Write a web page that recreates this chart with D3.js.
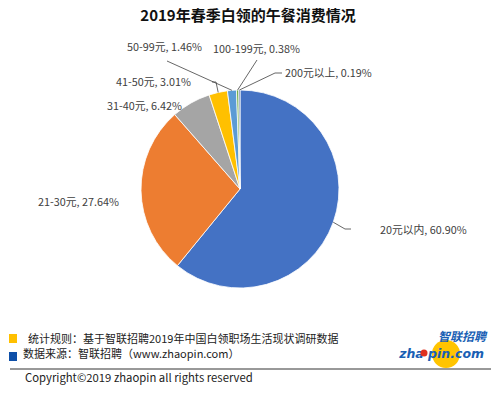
<!DOCTYPE html>
<meta charset="utf-8">
<style>
body { margin: 0; background: #fff; }
text { font-family: "Noto Sans CJK SC", "Noto Sans", sans-serif; fill: #333; }
.title { font-size: 15px; font-weight: bold; fill: #111; }
.lbl { font-size: 10.8px; fill: #404040; }
.foot { font-size: 11px; fill: #222; }
.leader { fill: none; stroke: #404040; stroke-width: 0.8; }
</style>
<svg width="500" height="398"></svg>
<script src="https://d3js.org/d3.v7.min.js"></script>
<script>

var categories = ["20元以内", "21-30元", "31-40元", "41-50元", "50-99元", "100-199元", "200元以上"];
var shares = [60.90, 27.64, 6.42, 3.01, 1.46, 0.38, 0.19];
var colors = ["#4472c4", "#ed7d31", "#a5a5a5", "#ffc000", "#5b9bd5", "#70ad47", "#264478"];

// label layout: text anchor and leader path points
var labelPos = [
  {x: 380, y: 230, elbow: [[345, 229], [351, 229]]},
  {x: 38, y: 202, elbow: null},
  {x: 107, y: 106, elbow: null},
  {x: 116, y: 82, elbow: [[216, 82], [212, 82]]},
  {x: 127, y: 47, elbow: [[167, 61]]},
  {x: 213, y: 49, elbow: [[257, 60]]},
  {x: 285, y: 73, elbow: [[275, 73], [282, 73]]}
];

var svg = d3.select("svg"),
    cx = 240, cy = 189, r = 99;

svg.append("text")
    .attr("class", "title")
    .attr("x", 248).attr("y", 21)
    .attr("text-anchor", "middle")
    .text("2019年春季白领的午餐消费情况");

var data = categories.map(function(c, i) { return {name: c, value: shares[i], i: i}; });

var pie = d3.pie().sort(null).value(function(d) { return d.value; });
var arc = d3.arc().innerRadius(0).outerRadius(r);

var g = svg.append("g").attr("transform", "translate(" + cx + "," + cy + ")");

var arcs = pie(data);

g.selectAll("path.slice")
  .data(arcs)
  .enter().append("path")
    .attr("class", "slice")
    .attr("d", arc)
    .attr("fill", function(d) { return colors[d.data.i]; })
    .attr("stroke", "#fff")
    .attr("stroke-width", 0.8);

// leader lines
arcs.forEach(function(d) {
  var p = labelPos[d.data.i];
  if (!p.elbow) return;
  var mid = (d.startAngle + d.endAngle) / 2;
  var pts = [[cx + r * Math.sin(mid), cy - r * Math.cos(mid)]].concat(p.elbow);
  svg.append("path")
      .attr("class", "leader")
      .attr("d", d3.line()(pts));
});

svg.selectAll("text.lbl")
  .data(arcs)
  .enter().append("text")
    .attr("class", "lbl")
    .attr("x", function(d) { return labelPos[d.data.i].x; })
    .attr("y", function(d) { return labelPos[d.data.i].y; })
    .attr("dy", "0.35em")
    .text(function(d) { return d.data.name + ", " + d3.format(".2f")(d.data.value) + "%"; });

// footer
svg.append("rect").attr("x", 9).attr("y", 334).attr("width", 8).attr("height", 9).attr("fill", "#ffc000");
svg.append("rect").attr("x", 9).attr("y", 352).attr("width", 8).attr("height", 9).attr("fill", "#0e4fa8");
svg.append("text").attr("class", "foot").attr("x", 28).attr("y", 339).attr("dy", "0.35em")
    .text("统计规则：基于智联招聘2019年中国白领职场生活现状调研数据");
svg.append("text").attr("class", "foot").attr("x", 23).attr("y", 354).attr("dy", "0.35em")
    .text("数据来源：智联招聘（www.zhaopin.com）");
svg.append("line").attr("x1", 10).attr("x2", 491).attr("y1", 369).attr("y2", 369)
    .attr("stroke", "#333").attr("stroke-width", 1);
svg.append("text").attr("class", "foot").attr("x", 25).attr("y", 378).attr("dy", "0.35em")
    .style("font-size", "11.3px")
    .text("Copyright©2019 zhaopin all rights reserved");

// logo
var logo = svg.append("g");
logo.append("circle").attr("cx", 446).attr("cy", 354).attr("r", 14).attr("fill", "#ffc400");
logo.append("text").attr("x", 486).attr("y", 341).attr("text-anchor", "end")
    .style("font-size", "12px").style("font-weight", "bold").style("font-style", "italic")
    .style("fill", "#1a5fb4").text("智联招聘");
logo.append("text").attr("x", 484).attr("y", 358).attr("text-anchor", "end")
    .style("font-family", "'DejaVu Sans', sans-serif")
    .style("font-size", "12.5px").style("font-weight", "bold").style("font-style", "italic")
    .style("fill", "#1a5fb4").text("zha pin.com");
logo.append("circle").attr("cx", 424).attr("cy", 353).attr("r", 3.5).attr("fill", "#e0301e");

</script>
